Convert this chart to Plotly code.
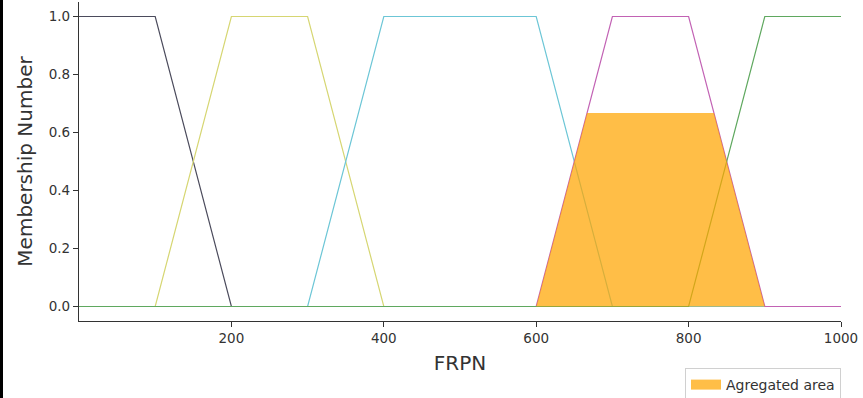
import plotly.graph_objects as go

# Breakpoints of the trapezoidal membership functions over the FRPN universe
frpn = [0, 100, 200, 300, 400, 600, 700, 800, 900, 1000]
very_low = [1, 1, 0, 0, 0, 0, 0, 0, 0, 0]
low = [0, 0, 1, 1, 0, 0, 0, 0, 0, 0]
medium = [0, 0, 0, 0, 1, 1, 0, 0, 0, 0]
high = [0, 0, 0, 0, 0, 0, 1, 1, 0, 0]
very_high = [0, 0, 0, 0, 0, 0, 0, 0, 1, 1]

# Aggregated output (high set clipped at its activation level)
agg_x = [0, 600, 666.7, 833.3, 900, 1000]
agg_y = [0, 0, 0.667, 0.667, 0, 0]

x_ticks = [200, 400, 600, 800, 1000]
y_ticks = [0.0, 0.2, 0.4, 0.6, 0.8, 1.0]

series = [
    (very_low, "#4b4b5c"),
    (low, "#d6d672"),
    (medium, "#6cc6d6"),
    (high, "#c262b4"),
    (very_high, "#5fa85f"),
]
orange = "rgba(255,165,0,0.72)"

fig = go.Figure()
for ys, col in series:
    fig.add_trace(go.Scatter(x=frpn, y=ys, mode="lines",
                             line=dict(color=col, width=1.2),
                             showlegend=False, hoverinfo="skip"))

fig.add_trace(go.Scatter(x=agg_x, y=agg_y, mode="lines", fill="tozeroy",
                         fillcolor=orange, line=dict(width=0, color=orange),
                         name="Agregated area", legendgroup="agg",
                         showlegend=False))
# legend swatch for the aggregated area
fig.add_trace(go.Scatter(x=[None], y=[None], mode="lines",
                         line=dict(width=12, color=orange),
                         name="Agregated area", legendgroup="agg"))

axis_font = dict(family="DejaVu Sans", size=13.5, color="#333333")
fig.update_layout(
    width=863, height=398,
    margin=dict(l=79, r=22, t=2, b=77, autoexpand=False),
    plot_bgcolor="white", paper_bgcolor="white",
    font=dict(family="DejaVu Sans", color="#333333"),
    xaxis=dict(range=[0, 1000], tickvals=x_ticks, ticks="outside", ticklen=5,
               tickcolor="#333333", showline=True, linecolor="#333333",
               linewidth=1.2, showgrid=False, zeroline=False, tickfont=axis_font,
               automargin=False,
               title=dict(text="FRPN", font=dict(size=20, color="#333333"),
                          standoff=10)),
    yaxis=dict(range=[-0.05, 1.05], tickvals=y_ticks, tickformat=".1f",
               ticks="outside", ticklen=5, tickcolor="#333333",
               showline=True, linecolor="#333333", linewidth=1.2,
               showgrid=False, zeroline=False, tickfont=axis_font,
               automargin=False,
               title=dict(text="Membership Number",
                          font=dict(size=20, color="#333333"), standoff=10)),
    legend=dict(xref="container", yref="container",
                x=841 / 863, xanchor="right", y=(398 - 368) / 398, yanchor="top",
                bordercolor="#d0d0d0", borderwidth=1,
                font=dict(family="DejaVu Sans", size=14, color="#333333")),
    shapes=[dict(type="rect", xref="paper", yref="paper",
                 x0=-79 / 762, x1=-76 / 762, y0=-77 / 319, y1=321 / 319,
                 fillcolor="black", line=dict(width=0))],
)

fig.write_html("out.html")
